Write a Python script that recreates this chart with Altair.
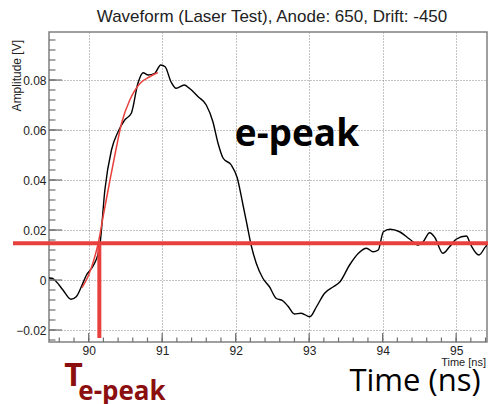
import altair as alt
import pandas as pd
import numpy as np

# ---- data ----
wave_t = [89.46, 89.50, 89.56, 89.65, 89.76, 89.83, 89.91, 89.97, 90.04, 90.10, 90.13, 90.155,
          90.22, 90.31, 90.40, 90.49, 90.58, 90.67, 90.74, 90.81, 90.90, 90.98, 91.04, 91.12,
          91.19, 91.30, 91.37, 91.49, 91.60, 91.69, 91.76, 91.83, 91.94, 92.02, 92.10, 92.16,
          92.21, 92.28, 92.37, 92.46, 92.55, 92.64, 92.71, 92.80, 92.89, 93.01, 93.10, 93.21,
          93.33, 93.42, 93.55, 93.67, 93.78, 93.87, 93.94, 94.01, 94.10, 94.23, 94.37, 94.48,
          94.55, 94.64, 94.71, 94.82, 94.91, 95.00, 95.14, 95.20, 95.31, 95.43, 95.52]
wave_v = [0.0008, 0.0007, -0.0007, -0.0040, -0.0077, -0.0067, -0.0020, 0.0020, 0.0047, 0.0080, 0.0107, 0.0147,
          0.0360, 0.0520, 0.0593, 0.0640, 0.0667, 0.0787, 0.0829, 0.0820, 0.0827, 0.0860, 0.0853, 0.0793,
          0.0767, 0.0780, 0.0767, 0.0733, 0.0700, 0.0633, 0.0547, 0.0487, 0.0460, 0.0410, 0.0300, 0.0213,
          0.0140, 0.0067, 0.0007, -0.0027, -0.0073, -0.0083, -0.0104, -0.0136, -0.0133, -0.0147, -0.0107, -0.0053,
          -0.0027, -0.0007, 0.0060, 0.0107, 0.0127, 0.0113, 0.0120, 0.0193, 0.0203, 0.0193, 0.0163, 0.0140,
          0.0153, 0.0189, 0.0170, 0.0107, 0.0133, 0.0163, 0.0176, 0.0140, 0.0100, 0.0140, 0.0123]

fit_t = [89.91, 90.00, 90.08, 90.13, 90.20, 90.29, 90.37, 90.45, 90.56, 90.70, 90.83, 90.94]
fit_v = [-0.0030, 0.0020, 0.0090, 0.0147, 0.0260, 0.0400, 0.0520, 0.0630, 0.0720, 0.0787, 0.0813, 0.0830]

threshold_v = [0.0147]
t_peak = [90.145]
t_peak_low = [-0.0232]

x_labels = [90, 91, 92, 93, 94, 95]
y_labels = [-0.02, 0.0, 0.02, 0.04, 0.06, 0.08]

title_text = "Waveform (Laser Test), Anode: 650, Drift: -450"

# ---- styling ----
RED = "#e8413d"
DARKRED = "#8c0f0f"
W, H = 438, 310

x_minor = [round(v, 3) for v in np.arange(89.6, 95.45, 0.2)]
y_minor = [round(v, 4) for v in np.arange(-0.024, 0.0965, 0.004)]

xscale = alt.Scale(domain=[89.46, 95.42], nice=False, zero=False)
yscale = alt.Scale(domain=[-0.0248, 0.0992], nice=False, zero=False)

X = alt.X("t:Q", scale=xscale, title=None,
          axis=alt.Axis(values=x_labels, grid=True, gridDash=[1, 2], gridColor="#888",
                        gridWidth=1, ticks=False, tickSize=0, domain=False,
                        labelFont="Liberation Sans", labelFontSize=12, labelColor="#222",
                        labelPadding=3, labelFlush=False, labelOverlap=False, title=None))
Y = alt.Y("v:Q", scale=yscale, title=None,
          axis=alt.Axis(values=y_labels, grid=True, gridDash=[1, 2], gridColor="#888",
                        gridWidth=1, ticks=False, tickSize=0, domain=False,
                        labelFont="Liberation Sans", labelFontSize=12, labelColor="#222",
                        labelPadding=3, labelFlush=False, labelOverlap=False,
                        labelExpr="abs(datum.value) < 1e-9 ? '0' : format(datum.value, '.2f')",
                        title=None))

wave = alt.Chart(pd.DataFrame({"t": wave_t, "v": wave_v})).mark_line(
    color="black", strokeWidth=1.4, interpolate="monotone", clip=True).encode(x=X, y=Y)

fit = alt.Chart(pd.DataFrame({"t": fit_t, "v": fit_v})).mark_line(
    color=RED, strokeWidth=1.5, interpolate="monotone").encode(x=X, y=Y)

hline = alt.Chart(pd.DataFrame({"v": threshold_v})).mark_rule(
    color=RED, strokeWidth=4).encode(y=Y, x=alt.value(-36), x2=alt.value(W + 2))

vline = alt.Chart(pd.DataFrame({"t": t_peak, "v": threshold_v, "v2": t_peak_low})).mark_rule(
    color=RED, strokeWidth=4).encode(x=X, y=Y, y2="v2:Q")

tick_col = "#707070"
xt_major = alt.Chart(pd.DataFrame({"t": x_labels})).mark_rule(color=tick_col, strokeWidth=1.2).encode(
    x=X, y=alt.value(H), y2=alt.value(H - 9))
xt_minor = alt.Chart(pd.DataFrame({"t": x_minor})).mark_rule(color=tick_col, strokeWidth=1.2).encode(
    x=X, y=alt.value(H), y2=alt.value(H - 4.5))
yt_major = alt.Chart(pd.DataFrame({"v": y_labels})).mark_rule(color=tick_col, strokeWidth=1.2).encode(
    y=Y, x=alt.value(0), x2=alt.value(13))
yt_minor = alt.Chart(pd.DataFrame({"v": y_minor})).mark_rule(color=tick_col, strokeWidth=1.2).encode(
    y=Y, x=alt.value(0), x2=alt.value(6.5))

one = pd.DataFrame({"k": [0]})


def label(text, x, y, **kw):
    return alt.Chart(one).mark_text(text=text, **kw).encode(x=alt.value(x), y=alt.value(y))


texts = [
    label(title_text, 223, -10.5, font="Liberation Sans", fontSize=17, color="#222",
          align="center", baseline="alphabetic"),
    label("Amplitude [V]", -28, 8, font="Liberation Sans", fontSize=12, color="#222",
          angle=270, align="right", baseline="alphabetic"),
    label("Time [ns]", 437, 334, font="Liberation Sans", fontSize=11, color="#222",
          align="right", baseline="alphabetic"),
    label("e-peak", 248, 114, font="Open Sans", fontSize=37, fontWeight="bold", color="black",
          align="center", baseline="alphabetic"),
    label("T", 24.5, 354, font="Open Sans", fontSize=32, fontWeight="bold", color=DARKRED,
          align="center", baseline="alphabetic"),
    label("e-peak", 73, 368, font="Open Sans", fontSize=26, fontWeight="bold", color=DARKRED,
          align="center", baseline="alphabetic"),
    label("Time (ns)", 366, 359, font="Open Sans", fontSize=31, color="black",
          align="center", baseline="alphabetic"),
]

chart = alt.layer(wave, fit, xt_major, xt_minor, yt_major, yt_minor, hline, vline, *texts).properties(
    width=W, height=H,
    autosize=alt.AutoSizeParams(type="none"),
    padding={"left": 41, "top": 24, "right": 1, "bottom": 62},
    background="white",
).configure_view(stroke="#808080", strokeWidth=1.5)

chart.save("out.html", embed_options={"renderer": "svg", "actions": False})
